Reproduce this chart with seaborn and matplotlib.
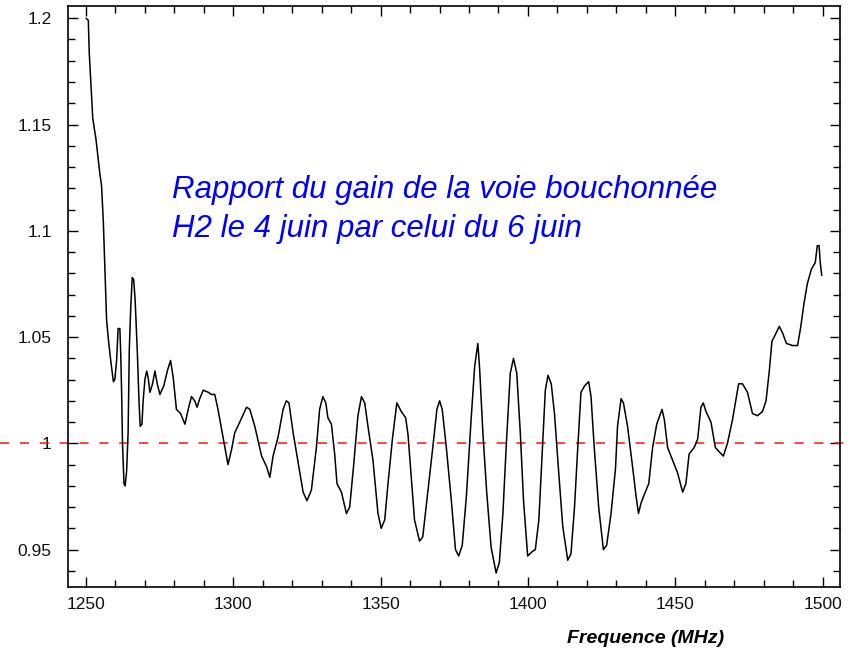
import numpy as np
import pandas as pd
import matplotlib
matplotlib.use("Agg")
import matplotlib.pyplot as plt
import matplotlib.ticker as mticker
import matplotlib.transforms as mtransforms
import seaborn as sns

# ---- data ----
freq = [1250.0, 1250.8, 1251.1, 1251.6, 1252.3, 1253.4, 1254.7, 1255.3, 1255.9, 1256.4,
        1257.0, 1257.6, 1258.4, 1259.3, 1259.8, 1260.4, 1260.9, 1261.5, 1261.8, 1262.1,
        1262.4, 1262.9, 1263.3, 1263.8, 1264.3, 1264.7, 1265.2, 1265.7, 1266.2, 1266.7,
        1267.4, 1268.0, 1268.4, 1269.0, 1269.4, 1270.0, 1270.6, 1271.1, 1271.7, 1272.6,
        1273.4, 1274.2, 1275.1, 1276.4, 1277.6, 1278.7, 1279.6, 1280.7, 1282.1, 1283.6,
        1284.7, 1285.8, 1286.9, 1287.7, 1288.6, 1289.8, 1291.5, 1292.6, 1293.7, 1294.8,
        1296.5, 1298.2, 1299.4, 1300.5, 1302.2, 1304.5, 1305.6, 1307.3, 1309.6, 1311.3,
        1312.4, 1313.5, 1315.2, 1316.9, 1318.0, 1318.9, 1320.3, 1322.0, 1323.7, 1325.0,
        1326.5, 1328.2, 1329.3, 1330.4, 1331.4, 1332.1, 1333.3, 1334.4, 1335.2, 1336.7,
        1338.4, 1339.5, 1340.8, 1342.3, 1343.5, 1344.6, 1345.7, 1347.4, 1349.1, 1350.2,
        1351.4, 1352.5, 1354.0, 1355.5, 1357.0, 1358.5, 1359.3, 1360.4, 1361.5, 1363.2,
        1364.3, 1366.0, 1367.7, 1369.1, 1370.0, 1370.9, 1372.3, 1374.0, 1375.4, 1376.5,
        1377.7, 1379.1, 1380.7, 1381.9, 1383.0, 1383.6, 1384.7, 1386.0, 1387.5, 1389.2,
        1390.3, 1391.5, 1392.6, 1394.0, 1395.1, 1396.2, 1397.4, 1398.5, 1399.9, 1401.4,
        1402.5, 1403.7, 1404.8, 1405.9, 1406.8, 1407.9, 1409.0, 1410.4, 1411.8, 1413.5,
        1414.6, 1415.8, 1416.9, 1418.0, 1419.2, 1420.6, 1421.4, 1422.5, 1424.0, 1425.6,
        1426.7, 1428.2, 1429.7, 1430.4, 1431.6, 1432.4, 1433.8, 1435.5, 1436.7, 1437.5,
        1438.4, 1439.5, 1441.0, 1442.3, 1443.7, 1445.5, 1446.3, 1447.4, 1449.1, 1450.8,
        1452.5, 1453.6, 1454.7, 1456.4, 1457.6, 1458.7, 1459.5, 1460.4, 1462.1, 1463.6,
        1464.9, 1466.3, 1467.7, 1469.4, 1471.5, 1472.8, 1474.5, 1476.2, 1477.9, 1479.6,
        1480.8, 1481.9, 1482.8, 1483.9, 1485.3, 1486.4, 1487.7, 1489.8, 1491.5, 1492.6,
        1493.7, 1494.8, 1496.2, 1497.5, 1498.2, 1498.8, 1499.2, 1499.7]
ratio = [1.200, 1.199, 1.184, 1.171, 1.153, 1.143, 1.127, 1.121, 1.104, 1.083,
         1.058, 1.049, 1.039, 1.029, 1.030, 1.039, 1.054, 1.054, 1.042, 1.024,
         1.000, 0.981, 0.980, 0.987, 1.005, 1.044, 1.064, 1.078, 1.077, 1.067,
         1.044, 1.020, 1.008, 1.009, 1.020, 1.030, 1.034, 1.031, 1.024, 1.028,
         1.034, 1.028, 1.023, 1.027, 1.034, 1.039, 1.031, 1.016, 1.014, 1.009,
         1.016, 1.022, 1.020, 1.017, 1.021, 1.025, 1.024, 1.023, 1.023, 1.016,
         1.003, 0.990, 0.997, 1.005, 1.010, 1.017, 1.016, 1.008, 0.994, 0.989,
         0.984, 0.994, 1.003, 1.016, 1.020, 1.019, 1.005, 0.991, 0.977, 0.973,
         0.978, 0.998, 1.016, 1.022, 1.019, 1.012, 1.009, 0.995, 0.981, 0.977,
         0.967, 0.970, 0.989, 1.013, 1.022, 1.019, 1.008, 0.992, 0.967, 0.960,
         0.964, 0.981, 1.002, 1.019, 1.015, 1.012, 1.004, 0.984, 0.964, 0.954,
         0.956, 0.977, 0.998, 1.016, 1.020, 1.016, 0.998, 0.973, 0.950, 0.947,
         0.952, 0.975, 1.011, 1.036, 1.047, 1.035, 1.005, 0.977, 0.951, 0.939,
         0.944, 0.967, 0.998, 1.033, 1.040, 1.033, 1.005, 0.973, 0.947, 0.949,
         0.950, 0.964, 0.995, 1.025, 1.032, 1.028, 1.014, 0.987, 0.961, 0.945,
         0.948, 0.970, 0.998, 1.024, 1.027, 1.029, 1.022, 0.998, 0.970, 0.950,
         0.952, 0.967, 0.988, 1.008, 1.021, 1.019, 1.008, 0.989, 0.975, 0.967,
         0.972, 0.976, 0.981, 0.998, 1.009, 1.016, 1.011, 0.998, 0.992, 0.986,
         0.977, 0.981, 0.995, 0.998, 1.002, 1.017, 1.019, 1.015, 1.010, 0.998,
         0.996, 0.994, 1.000, 1.011, 1.028, 1.028, 1.024, 1.014, 1.013, 1.015,
         1.020, 1.034, 1.048, 1.051, 1.055, 1.052, 1.047, 1.046, 1.046, 1.055,
         1.066, 1.075, 1.082, 1.085, 1.093, 1.093, 1.085, 1.079]
ref_level = 1.0
x_ticks = [1250, 1300, 1350, 1400, 1450, 1500]
y_ticks = [0.95, 1.0, 1.05, 1.1, 1.15, 1.2]
y_tick_labels = ["0.95", "1", "1.05", "1.1", "1.15", "1.2"]
x_label = "Frequence (MHz)"
note_lines = ["Rapport du gain de la voie bouchonnée",
              "H2 le 4 juin par celui du 6 juin"]

df = pd.DataFrame({"freq": freq, "ratio": ratio})

sns.set_theme(style="ticks")
plt.rcParams["font.family"] = ["Liberation Sans", "DejaVu Sans"]

W, H = 852, 649
fig = plt.figure(figsize=(W / 100, H / 100), dpi=100)
ax = fig.add_axes([67.7 / W, 1 - 587 / H, (840 - 67.7) / W, (587 - 5.7) / H])

sns.lineplot(data=df, x="freq", y="ratio", ax=ax, sort=False, estimator=None,
             color="black", linewidth=1.1)

# reference dashed line across whole figure width
trans = mtransforms.blended_transform_factory(fig.transFigure, ax.transData)
ax.plot([0, 1], [ref_level, ref_level], transform=trans, clip_on=False,
        color="#ff1010", linewidth=1.1, linestyle=(0, (6, 7)), zorder=1)

ax.set_xlim(1243.8, 1505.9)
ax.set_ylim(0.9324, 1.2059)
ax.set_xticks(x_ticks)
ax.set_xticklabels([str(t) for t in x_ticks])
ax.set_yticks(y_ticks)
ax.set_yticklabels(y_tick_labels)
ax.xaxis.set_minor_locator(mticker.MultipleLocator(10))
ax.yaxis.set_minor_locator(mticker.MultipleLocator(0.01))
ax.tick_params(which="both", direction="in", top=True, right=True,
               color="black", width=1.0, labelsize=12.5, labelcolor="#111111")
ax.tick_params(which="major", length=7.5)
ax.tick_params(which="minor", length=5)
ax.tick_params(axis="x", which="major", pad=7)
ax.tick_params(axis="y", which="major", pad=11.5)
ax.set_xlabel("")
ax.set_ylabel("")
for s in ax.spines.values():
    s.set_color("black")
    s.set_linewidth(1.2)
ax.set_facecolor("white")

fig.text(172 / W, 1 - 198 / H, note_lines[0], color="#0000ff", fontsize=22.5,
         style="italic", ha="left", va="baseline")
fig.text(172 / W, 1 - 237 / H, note_lines[1], color="#0000ff", fontsize=22.5,
         style="italic", ha="left", va="baseline")
fig.text(567 / W, 1 - 643 / H, x_label, color="black", fontsize=14,
         style="italic", weight="bold", ha="left", va="baseline")

fig.savefig("out.png", dpi=100, facecolor="white")
